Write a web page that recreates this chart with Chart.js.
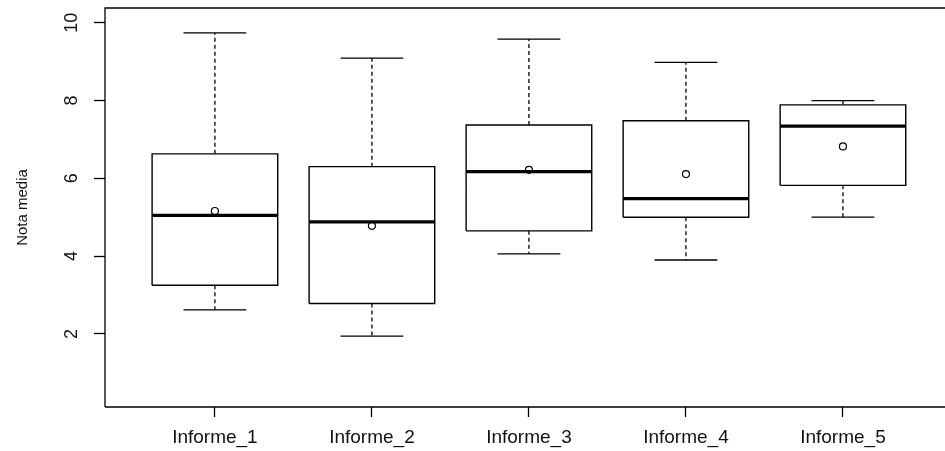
<!DOCTYPE html>
<html>
<head>
<meta charset="utf-8">
<script src="https://cdn.jsdelivr.net/npm/chart.js@4/dist/chart.umd.min.js"></script>
<style>
  html, body { margin: 0; padding: 0; background: #fff; overflow: hidden; }
  #wrap { width: 945px; height: 451px; position: relative; }
</style>
</head>
<body>
<div id="wrap"><canvas id="c" width="945" height="451"></canvas></div>
<script>
// ---- data ----
const categories = ["Informe_1", "Informe_2", "Informe_3", "Informe_4", "Informe_5"];
const whiskerLow  = [2.62, 1.94, 4.06, 3.90, 5.00];
const q1          = [3.25, 2.78, 4.65, 5.00, 5.82];
const medians     = [5.05, 4.88, 6.17, 5.48, 7.34];
const q3          = [6.63, 6.30, 7.37, 7.48, 7.89];
const whiskerHigh = [9.74, 9.09, 9.58, 8.98, 8.00];
const means       = [5.16, 4.78, 6.22, 6.11, 6.82];
const yTicks      = [2, 4, 6, 8, 10];
const yLabel      = "Nota media";

// ---- derived line geometry (in data units) ----
const BOXW = 0.4, CAPW = 0.2;
const gap = i => ({ x: i, y: null });
const boxPts = [], medPts = [], whiskPts = [], capPts = [], meanPts = [];
categories.forEach((c, i) => {
  boxPts.push({x: i - BOXW, y: q1[i]}, {x: i + BOXW, y: q1[i]}, {x: i + BOXW, y: q3[i]},
              {x: i - BOXW, y: q3[i]}, {x: i - BOXW, y: q1[i]}, gap(i));
  medPts.push({x: i - BOXW, y: medians[i]}, {x: i + BOXW, y: medians[i]}, gap(i));
  whiskPts.push({x: i, y: q3[i]}, {x: i, y: whiskerHigh[i]}, gap(i),
                {x: i, y: q1[i]}, {x: i, y: whiskerLow[i]}, gap(i));
  capPts.push({x: i - CAPW, y: whiskerHigh[i]}, {x: i + CAPW, y: whiskerHigh[i]}, gap(i),
              {x: i - CAPW, y: whiskerLow[i]}, {x: i + CAPW, y: whiskerLow[i]}, gap(i));
  meanPts.push({x: i, y: means[i]});
});

const lineDs = (label, data, width, dash) => ({
  label, data, showLine: true, spanGaps: false, borderColor: '#000', borderWidth: width,
  borderDash: dash || [], pointRadius: 0, pointHoverRadius: 0, fill: false, tension: 0
});

const framePlugin = {
  id: 'frame',
  afterDraw(chart) {
    const {ctx, chartArea: a} = chart;
    ctx.save();
    ctx.strokeStyle = '#000';
    ctx.lineWidth = 1.3;
    ctx.beginPath();
    ctx.moveTo(a.left, a.bottom);
    ctx.lineTo(a.left, a.top);
    ctx.lineTo(a.right + 5, a.top);
    ctx.moveTo(a.left, a.bottom);
    ctx.lineTo(a.right + 5, a.bottom);
    ctx.stroke();
    ctx.restore();
  }
};

const FONT = 'Liberation Sans, Arial, sans-serif';

new Chart(document.getElementById('c'), {
  type: 'scatter',
  data: {
    datasets: [
      lineDs('whiskers', whiskPts, 1.3, [4, 3]),
      lineDs('caps', capPts, 1.3),
      lineDs('boxes', boxPts, 1.4),
      lineDs('medians', medPts, 3.2),
      {
        label: 'means', data: meanPts, showLine: false,
        pointRadius: 3.5, pointHoverRadius: 3.5, pointStyle: 'circle',
        pointBackgroundColor: '#fff', pointBorderColor: '#000', pointBorderWidth: 1.2
      }
    ]
  },
  options: {
    responsive: false,
    animation: false,
    events: [],
    layout: { padding: { top: 8, right: 0, bottom: 0, left: 0 } },
    plugins: { legend: { display: false }, tooltip: { enabled: false } },
    scales: {
      x: {
        type: 'linear',
        min: -0.70, max: 4.62,
        afterBuildTicks: s => { s.ticks = categories.map((c, i) => ({ value: i })); },
        afterFit: s => { s.height = 44; s.paddingLeft = 0; s.paddingRight = 0; },
        grid: { display: true, drawOnChartArea: false, drawTicks: true, tickLength: 10, tickColor: '#000', tickWidth: 1.3 },
        border: { display: false },
        ticks: {
          color: '#111', padding: 9,
          font: { family: FONT, size: 19 },
          callback: v => categories[v] ?? ''
        }
      },
      y: {
        type: 'linear',
        min: 0.12, max: 10.38,
        afterBuildTicks: s => { s.ticks = yTicks.map(v => ({ value: v })); },
        afterFit: s => { s.width = 105; s.paddingTop = 0; s.paddingBottom = 0; },
        grid: { display: true, drawOnChartArea: false, drawTicks: true, tickLength: 11, tickColor: '#000', tickWidth: 1.3 },
        border: { display: false },
        title: {
          display: true, text: yLabel, color: '#111',
          font: { family: FONT, size: 15 },
          padding: { top: 14, bottom: 0 }
        },
        ticks: {
          color: '#111', padding: 12, minRotation: 90, maxRotation: 90, crossAlign: 'center',
          font: { family: FONT, size: 18 },
          callback: v => String(v)
        }
      }
    }
  },
  plugins: [framePlugin]
});
</script>
</body>
</html>
